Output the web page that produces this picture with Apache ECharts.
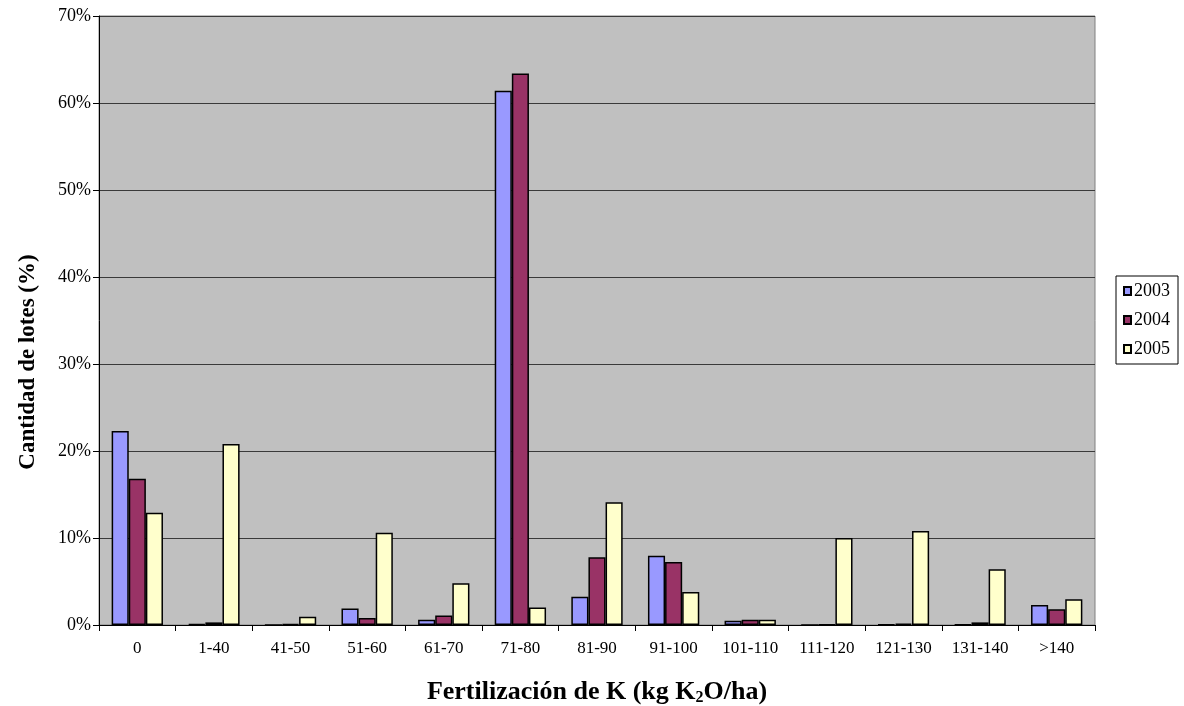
<!DOCTYPE html>
<html>
<head>
<meta charset="utf-8">
<script src="https://cdn.jsdelivr.net/npm/echarts@6/dist/echarts.min.js"></script>
<style>html,body{margin:0;padding:0;background:#fff;}#c{width:1184px;height:706px;}</style>
</head>
<body>
<div id="c"></div>
<script>
const categories = ['0','1-40','41-50','51-60','61-70','71-80','81-90','91-100','101-110','111-120','121-130','131-140','>140'];
const s2003 = [22.3, 0.1, 0.0, 1.9, 0.6, 61.4, 3.25, 7.95, 0.5, 0.0, 0.05, 0.05, 2.3];
const s2004 = [16.8, 0.3, 0.1, 0.8, 1.1, 63.4, 7.8, 7.25, 0.6, 0.05, 0.15, 0.3, 1.8];
const s2005 = [12.9, 20.8, 0.95, 10.6, 4.8, 2.0, 14.1, 3.8, 0.6, 10.0, 10.8, 6.4, 2.95];
const yTicks = [0,10,20,30,40,50,60,70];
const yTitle = 'Cantidad de lotes (%)';

const font = 'Liberation Serif';
const colors = ['#9999FF', '#993366', '#FFFFCC'];
const names = ['2003','2004','2005'];
const data = [s2003, s2004, s2005];

const chart = echarts.init(document.getElementById('c'));
chart.setOption({
  animation: false,
  grid: {left: 99, right: 89, top: 16, bottom: 81, outerBoundsMode: 'none', containLabel: false,
    show: true, backgroundColor: '#C0C0C0', borderColor: '#808080', borderWidth: 1},
  legend: {
    orient: 'vertical', right: 6, top: 276,
    itemWidth: 7, itemHeight: 8, itemGap: 11,
    padding: [6, 8, 6, 7],
    borderColor: '#000', borderWidth: 1, backgroundColor: '#fff',
    textStyle: {fontFamily: font, fontSize: 18, color: '#000', padding: [0, 0, 0, -2]},
    data: names.map(n => ({name: n, icon: 'rect'}))
  },
  graphic: [{
    type: 'text', x: 28, y: 362, rotation: Math.PI / 2,
    style: {text: yTitle, font: 'bold 23px "Liberation Serif"', fill: '#000', align: 'center', verticalAlign: 'middle'}
  }],
  xAxis: {
    type: 'category', data: categories,
    name: 'Fertilización de K (kg K{sub|2}O/ha)',
    nameLocation: 'middle', nameGap: 53,
    nameTextStyle: {fontFamily: font, fontSize: 26, fontWeight: 'bold', color: '#000',
      rich: {sub: {fontFamily: font, fontSize: 16, fontWeight: 'bold', color: '#000', verticalAlign: 'bottom', padding: [12, 0, 0, 0]}}},
    axisLine: {lineStyle: {color: '#000', width: 1}},
    axisTick: {show: true, length: 6, lineStyle: {color: '#000'}},
    axisLabel: {fontFamily: font, fontSize: 17, color: '#000', margin: 15, interval: 0, hideOverlap: false},
    splitLine: {show: false}
  },
  yAxis: {
    type: 'value', min: 0, max: 70, interval: 10,
    axisLine: {show: true, lineStyle: {color: '#000', width: 1}},
    axisTick: {show: true, length: 6, lineStyle: {color: '#000'}},
    axisLabel: {fontFamily: font, fontSize: 18, color: '#000', margin: 8, formatter: v => yTicks.includes(v) ? v + '%' : ''},
    splitLine: {show: true, lineStyle: {color: '#3a3a3a', width: 1}}
  },
  series: names.map((n, i) => ({
    name: n, type: 'bar', data: data[i],
    barGap: '0%', barCategoryGap: '33%',
    itemStyle: {color: colors[i], borderColor: '#000', borderWidth: 1.5}
  }))
});
</script>
</body>
</html>
